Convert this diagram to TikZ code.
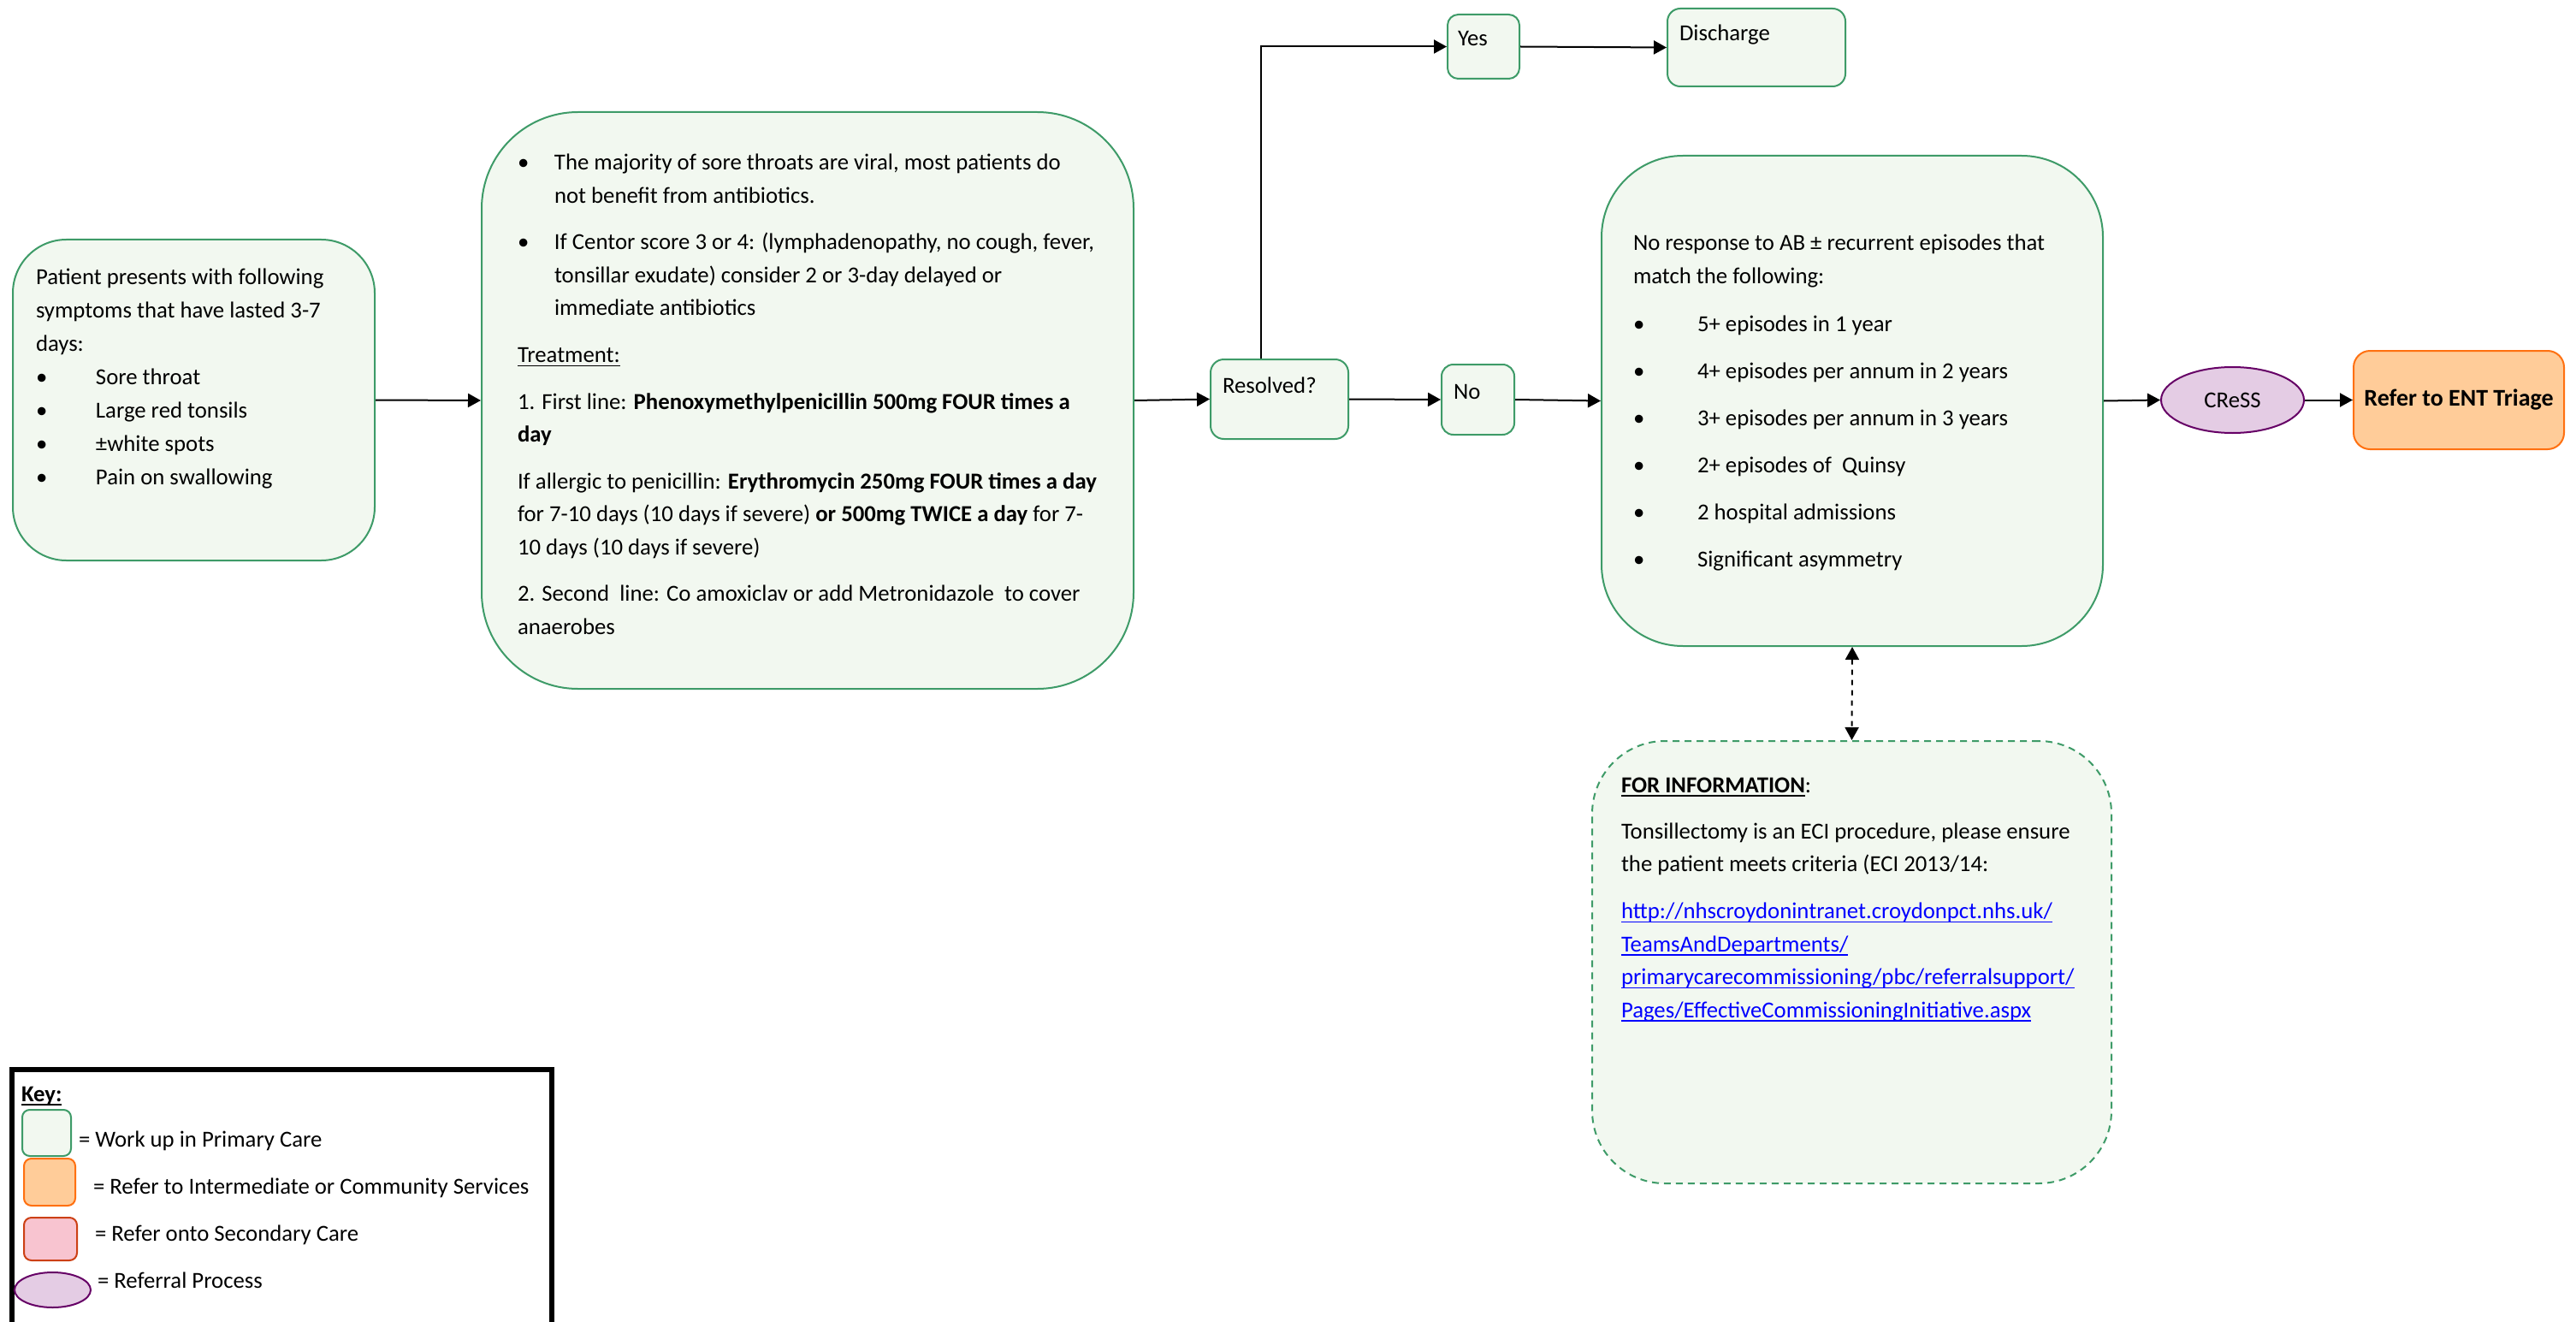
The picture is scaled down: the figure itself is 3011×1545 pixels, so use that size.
\documentclass[tikz,border=0pt]{standalone}
\usepackage{fontspec}
\setmainfont{Carlito}
\usetikzlibrary{arrows.meta,fit,shapes.geometric}
\definecolor{gline}{RGB}{62,155,104}
\definecolor{gfill}{RGB}{242,248,240}
\definecolor{oline}{RGB}{255,112,16}
\definecolor{ofill}{RGB}{255,204,153}
\definecolor{pline}{RGB}{102,0,102}
\definecolor{pfill}{RGB}{228,204,228}
\definecolor{rline}{RGB}{204,64,20}
\definecolor{rfill}{RGB}{248,196,208}
\definecolor{linkblue}{RGB}{0,0,255}
\newcommand{\myul}[1]{\leavevmode\setbox0\hbox{#1}\rlap{\rule[-1.8pt]{\wd0}{0.55pt}}\box0}
\newcommand{\bul}[1]{\makebox[#1][l]{\textbullet}}
\begin{document}
\begin{tikzpicture}[x=0.4pt,y=-0.4pt,
  font=\fontsize{10.7}{15.4}\selectfont,
  gbox/.style={draw=gline, fill=gfill, line width=0.8pt, inner sep=0pt},
  obox/.style={draw=oline, fill=ofill, line width=0.8pt, inner sep=0pt},
  rbox/.style={draw=rline, fill=rfill, line width=0.8pt, inner sep=0pt},
  pell/.style={ellipse, draw=pline, fill=pfill, line width=0.8pt, inner sep=0pt},
  txt/.style={anchor=base west, inner sep=0pt, outer sep=0pt},
  arr/.style={-{Triangle[length=6pt,width=6.4pt]}, line width=0.8pt},
  darr/.style={{Triangle[length=6pt,width=6.4pt]}-{Triangle[length=6pt,width=6.4pt]}, line width=0.8pt, dash pattern=on 2.4pt off 2.4pt}
]
\useasboundingbox[fill=white] (0,0) rectangle (3011,1545);

% ---------- boxes ----------
\node[gbox, rounded corners=25pt, fit={(15,280)(438,655)}] (b1) {};
\node[gbox, rounded corners=45pt, fit={(563,131)(1325,805)}] (b2) {};
\node[gbox, rounded corners=6.2pt, fit={(1415,420)(1576,513)}] (res) {};
\node[gbox, rounded corners=5pt, fit={(1692,17)(1776,92)}] (yes) {};
\node[gbox, rounded corners=6pt, fit={(1949,10)(2157,101)}] (disch) {};
\node[gbox, rounded corners=5.5pt, fit={(1685,426)(1770,508)}] (no) {};
\node[gbox, rounded corners=38pt, fit={(1872,182)(2458,755)}] (b3) {};
\node[pell, minimum width=66.8pt, minimum height=30.8pt] (cress) at (2609.5,467.5) {CReSS};
\node[obox, rounded corners=7.7pt, fit={(2751,410)(2997,525)}] (ent) {};
\node[font=\fontsize{11.2}{14}\selectfont\bfseries, inner sep=0pt] (entt) at (ent.center) {Refer to ENT Triage};
\node[gbox, rounded corners=34pt, dash pattern=on 3.2pt off 2.4pt, fit={(1861,866)(2468,1383)}] (info) {};

% ---------- texts ----------
\node[txt] (t1) at (42,332) {\begin{minipage}[t]{220pt}\fontsize{10.7}{15.6}\selectfont
Patient presents with following\\
symptoms that have lasted 3-7\\
days:\\
\bul{28pt}Sore throat\\
\bul{28pt}Large red tonsils\\
\bul{28pt}±white spots\\
\bul{28pt}Pain on swallowing
\end{minipage}};

\node[txt] (t2) at (605,199) {\begin{minipage}[t]{340pt}\fontsize{10.7}{15.4}\selectfont
\bul{17.2pt}The majority of sore throats are viral, most patients do\\
\hspace*{17.2pt}not benefit from antibiotics.\\[6.4pt]
\bul{17.2pt}If Centor score 3 or 4: (lymphadenopathy, no cough, fever,\\
\hspace*{17.2pt}tonsillar exudate) consider 2 or 3-day delayed or\\
\hspace*{17.2pt}immediate antibiotics\\[6.4pt]
\myul{Treatment:}\\[6.4pt]
1. First line: \textbf{Phenoxymethylpenicillin 500mg FOUR times a}\\
\textbf{day}\\[6.4pt]
If allergic to penicillin: \textbf{Erythromycin 250mg FOUR times a day}\\
for 7-10 days (10 days if severe) \textbf{or 500mg TWICE a day} for 7-\\
10 days (10 days if severe)\\[6.4pt]
2. Second\ \ line: Co amoxiclav or add Metronidazole\ \ to cover\\
anaerobes
\end{minipage}};

\node[txt] (tres) at (1429,459) {Resolved?};
\node[txt] (tyes) at (1704,54) {Yes};
\node[txt] (tdis) at (1963,48) {Discharge};
\node[txt] (tno) at (1699,466) {No};

\node[txt] (t3) at (1909,293) {\begin{minipage}[t]{300pt}\fontsize{10.7}{15.4}\selectfont
No response to AB ± recurrent episodes that\\
match the following:\\[7pt]
\bul{30pt}5+ episodes in 1 year\\[6.6pt]
\bul{30pt}4+ episodes per annum in 2 years\\[6.6pt]
\bul{30pt}3+ episodes per annum in 3 years\\[6.6pt]
\bul{30pt}2+ episodes of\ \ Quinsy\\[6.6pt]
\bul{30pt}2 hospital admissions\\[6.6pt]
\bul{30pt}Significant asymmetry
\end{minipage}};

\node[txt] (t4) at (1895,926) {\begin{minipage}[t]{300pt}\fontsize{10.7}{15.4}\selectfont
\myul{\textbf{FOR INFORMATION}}:\\[6.2pt]
Tonsillectomy is an ECI procedure, please ensure\\
the patient meets criteria (ECI 2013/14:\\[6.6pt]
{\color{linkblue}\myul{http://nhscroydonintranet.croydonpct.nhs.uk/}}\\
{\color{linkblue}\myul{TeamsAndDepartments/}}\\
{\color{linkblue}\myul{primarycarecommissioning/pbc/referralsupport/}}\\
{\color{linkblue}\myul{Pages/EffectiveCommissioningInitiative.aspx}}
\end{minipage}};

% ---------- connectors ----------
\draw[arr] (b1.east) -- (b2.west);
\draw[arr] (b2.east) -- (res.west);
\draw[arr] ([xshift=24pt]res.north west) |- (yes.west);
\draw[arr] (yes.east) -- (disch.west);
\draw[arr] (res.east) -- (no.west);
\draw[arr] (no.east) -- (b3.west);
\draw[arr] (b3.east) -- (cress.west);
\draw[arr] (cress.east) -- (ent.west);
\draw[darr] (b3.south) -- (info.north);

% ---------- key ----------
\node[draw, line width=2.6pt, inner sep=0pt, fit={(14,1250)(645,1620)}] (key) {};
\node[txt] (k0) at (25,1287) {\myul{\textbf{Key:}}};
\node[gbox, rounded corners=3.5pt, fit={(26,1297)(83,1351)}] (ks1) {};
\node[obox, rounded corners=3.5pt, fit={(28,1354)(88,1409)}] (ks2) {};
\node[rbox, rounded corners=3.5pt, fit={(28,1423)(90,1473)}] (ks3) {};
\node[pell, minimum width=35.6pt, minimum height=16.4pt] (ks4) at (61.5,1507.5) {};
\node[txt] (k1) at (92,1340) {= Work up in Primary Care};
\node[txt] (k2) at (109,1395) {= Refer to Intermediate or Community Services};
\node[txt] (k3) at (111,1450) {= Refer onto Secondary Care};
\node[txt] (k4) at (114,1505) {= Referral Process};
\end{tikzpicture}
\end{document}
